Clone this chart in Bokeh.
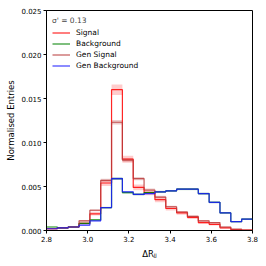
import numpy as np
from bokeh.plotting import figure
from bokeh.models import FixedTicker, NumeralTickFormatter, Legend, LegendItem, Range1d
from bokeh.embed import file_html
from bokeh.resources import INLINE

# ---- data ----
bin_lo, bin_hi, n_bins = 2.8, 3.8, 19
signal = [0.0002, 0.0003, 0.0004, 0.0008, 0.0019, 0.0054, 0.0160, 0.0081, 0.0049, 0.0043,
          0.0035, 0.0025, 0.0020, 0.0015, 0.0009, 0.0007, 0.0003, 0.0001, 0.00005]
signal_err = [0.00007, 0.00008, 0.0001, 0.00013, 0.0002, 0.00035, 0.0006, 0.0004, 0.00033, 0.0003,
              0.00028, 0.00024, 0.0002, 0.00018, 0.00014, 0.00012, 0.00008, 0.00005, 0.00003]
background = [0.0004, 0.0003, 0.0004, 0.0008, 0.0012, 0.0026, 0.0059, 0.0043, 0.0041, 0.0043,
              0.0044, 0.0045, 0.0047, 0.0047, 0.0042, 0.0032, 0.0020, 0.0010, 0.0013]
background_err = [0.00005, 0.00004, 0.00005, 0.00007, 0.00008, 0.0001, 0.00015, 0.00012, 0.00011, 0.00011,
                  0.00011, 0.00011, 0.00012, 0.00012, 0.00011, 0.0001, 0.00008, 0.00006, 0.00006]
gen_signal = [0.0002, 0.0003, 0.0004, 0.0011, 0.0023, 0.0057, 0.0123, 0.0080, 0.0059, 0.0046,
              0.0038, 0.0027, 0.0021, 0.0016, 0.0011, 0.0009, 0.0004, 0.00015, 0.00005]
gen_signal_err = [0.00003, 0.00003, 0.00004, 0.00008, 0.00012, 0.00018, 0.00025, 0.0002, 0.00018, 0.00016,
                  0.00014, 0.00012, 0.0001, 0.00009, 0.00008, 0.00007, 0.00005, 0.00003, 0.00002]
gen_background = [0.0002, 0.0003, 0.0004, 0.0006, 0.0011, 0.0026, 0.0059, 0.0044, 0.0041, 0.0042,
                  0.0044, 0.0045, 0.0047, 0.0047, 0.0042, 0.0032, 0.0020, 0.0010, 0.0013]
gen_background_err = [0.00003, 0.00003, 0.00004, 0.00005, 0.00006, 0.00008, 0.00012, 0.0001, 0.0001, 0.0001,
                      0.0001, 0.0001, 0.0001, 0.0001, 0.0001, 0.00009, 0.00007, 0.00005, 0.00006]
x_ticks = [2.8, 3.0, 3.2, 3.4, 3.6, 3.8]
y_ticks = [0.0, 0.005, 0.010, 0.015, 0.020, 0.025]
legend_title = "σ' = 0.13"

edges = list(np.linspace(bin_lo, bin_hi, n_bins + 1))

FONT = "DejaVu Sans"
p = figure(width=266, height=266, output_backend="svg", toolbar_location=None,
           x_range=Range1d(2.8, 3.8), y_range=Range1d(0.0, 0.025),
           min_border_left=46, min_border_right=14, min_border_top=10, min_border_bottom=36)
p.background_fill_color = "white"
p.border_fill_color = "white"
p.outline_line_color = "black"
p.outline_line_width = 1
p.outline_line_alpha = 1
p.xgrid.visible = False
p.ygrid.visible = False

series = [
    ("Signal", signal, signal_err, "#ff0000", 0.2),
    ("Background", background, background_err, "#008000", 0.2),
    ("Gen Signal", gen_signal, gen_signal_err, "#b83a3a", 0.25),
    ("Gen Background", gen_background, gen_background_err, "#1a1aff", 0.2),
]

items = []
for name, vals, errs, col, a in series:
    lo = [v - e for v, e in zip(vals, errs)]
    hi = [v + e for v, e in zip(vals, errs)]
    p.quad(left=edges[:-1], right=edges[1:], bottom=lo, top=hi,
           fill_color=col, fill_alpha=a, line_color=None)
for name, vals, errs, col, a in series:
    r = p.step(x=edges, y=list(vals) + [vals[-1]], mode="after",
               line_color=col, line_width=1.2, line_alpha=0.85)
    items.append(LegendItem(label=name, renderers=[r]))

legend = Legend(items=items, location="top_left", title=legend_title)
legend.background_fill_alpha = 0
legend.border_line_alpha = 0
legend.margin = 0
legend.padding = 6
legend.spacing = 2
legend.label_height = 9
legend.glyph_height = 9
legend.glyph_width = 18
legend.label_standoff = 6
legend.title_standoff = 3
legend.label_text_font = FONT
legend.label_text_font_size = "7.5px"
legend.title_text_font = FONT
legend.title_text_font_size = "7.5px"
legend.title_text_font_style = "normal"
legend.label_text_color = "black"
p.add_layout(legend)

for ax in (p.xaxis[0], p.yaxis[0]):
    ax.axis_line_color = "black"
    ax.major_tick_line_color = "black"
    ax.minor_tick_line_color = None
    ax.major_tick_out = 3
    ax.major_tick_in = 0
    ax.major_label_text_font = FONT
    ax.major_label_text_font_size = "7px"
    ax.major_label_text_color = "black"
    ax.major_label_standoff = 2
    ax.axis_label_text_font = FONT
    ax.axis_label_text_font_size = "8.5px"
    ax.axis_label_text_font_style = "normal"
    ax.axis_label_text_color = "black"

p.xaxis.ticker = FixedTicker(ticks=x_ticks)
p.xaxis.formatter = NumeralTickFormatter(format="0.0")
p.yaxis.ticker = FixedTicker(ticks=y_ticks)
p.yaxis.formatter = NumeralTickFormatter(format="0.000")
p.xaxis.axis_label = "ΔRⱼⱼ"
p.yaxis.axis_label = "Normalised Entries"
p.xaxis.axis_label_standoff = 4
p.yaxis.axis_label_standoff = 2

open("out.html", "w").write(file_html(p, INLINE))
